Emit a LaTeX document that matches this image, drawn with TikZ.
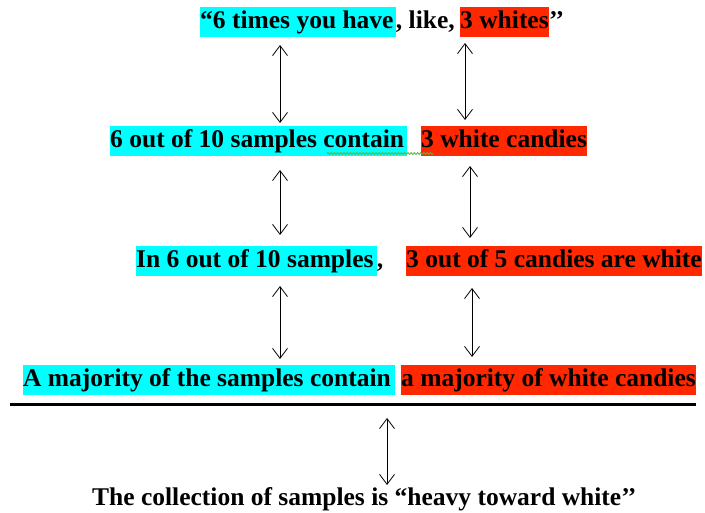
\documentclass[tikz,border=0pt]{standalone}
\usepackage{fontspec}
\setmainfont{Liberation Serif}
\usetikzlibrary{arrows.meta,decorations.pathmorphing}
\definecolor{hlcyan}{RGB}{0,255,255}
\definecolor{hlred}{RGB}{255,40,0}
\definecolor{spellgreen}{RGB}{90,180,60}
\begin{document}
\begin{tikzpicture}[x=1pt,y=-1pt,
  txt/.style={font=\fontsize{25.5}{30}\selectfont\bfseries, inner sep=0pt,
    text height=22pt, text depth=8pt, anchor=base west},
  cy/.style={txt, fill=hlcyan},
  rd/.style={txt, fill=hlred},
  dar/.style={{Straight Barb[length=10pt,width=15pt]}-{Straight Barb[length=10pt,width=15pt]}, line width=0.8pt},
  rule/.style={line width=3pt},
  squig/.style={spellgreen, line width=0.8pt, decorate, decoration={snake, amplitude=1pt, segment length=3.2pt}}]
\useasboundingbox (0,0) rectangle (705,513);
% line 1
\node[cy] (c1) at (200,29) {“6 times you have\kern2pt};
\node[txt] (m1) at (c1.base east) {, like,};
\node[rd] (r1) at (460,29) {3 whites};
\node[txt] (q1) at (r1.base east) {’’};
% line 2
\node[cy] (c2) at (110,148) {6 out of 10 samples contain\kern3pt};
\node[rd] (r2) at (421,148) {3 white candies};
\draw[squig] (327,153.5) -- (433,153.5);
% line 3
\node[cy] (c3) at (136,268) {In 6 out of 10 samples\kern3pt};
\node[txt] (m3) at (c3.base east) {,};
\node[rd] (r3) at (406,268) {3 out of 5 candies are white};
% line 4
\node[cy] (c4) at (23,387) {A majority of the samples contain\kern4pt};
\node[rd] (r4) at (401,387) {a majority of white candies};
% rule
\coordinate (ruleL) at (10,405);
\coordinate (ruleR) at (696,405);
\draw[rule] (ruleL) -- (ruleR);
% bottom
\node[txt] (b) at (92,505) {The collection of samples is “heavy toward white’’};
% arrows
\coordinate (a1lt) at (280,45);  \coordinate (a1lb) at (280,123);
\coordinate (a1rt) at (465,43);  \coordinate (a1rb) at (465,120);
\coordinate (a2lt) at (280,170); \coordinate (a2lb) at (280,235);
\coordinate (a2rt) at (470,166); \coordinate (a2rb) at (470,238);
\coordinate (a3lt) at (280,286); \coordinate (a3lb) at (280,359);
\coordinate (a3rt) at (472,288); \coordinate (a3rb) at (472,357);
\coordinate (a4t) at (387,418);  \coordinate (a4b) at (387,485);
\draw[dar] (a1lt) -- (a1lb);
\draw[dar] (a1rt) -- (a1rb);
\draw[dar] (a2lt) -- (a2lb);
\draw[dar] (a2rt) -- (a2rb);
\draw[dar] (a3lt) -- (a3lb);
\draw[dar] (a3rt) -- (a3rb);
\draw[dar] (a4t) -- (a4b);
\end{tikzpicture}
\end{document}
